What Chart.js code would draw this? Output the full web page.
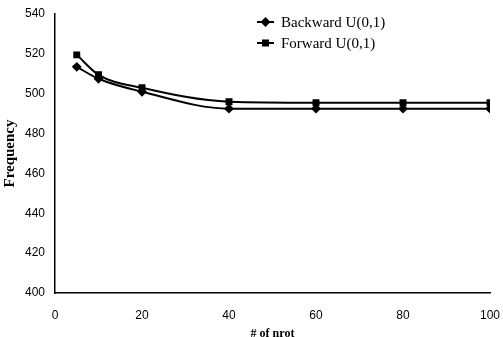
<!DOCTYPE html>
<html>
<head>
<meta charset="utf-8">
<script src="https://cdn.jsdelivr.net/npm/chart.js@4"></script>
<style>
  html, body { margin: 0; padding: 0; background: #fff; }
  #wrap { width: 503px; height: 337px; }
</style>
</head>
<body>
<div id="wrap"><canvas id="chart" width="503" height="337"></canvas></div>
<script>
const ctx = document.getElementById("chart");

/* ================= DATA ================= */

const nrot = [5, 10, 20, 40, 60, 80, 100];
const backward = [513.5, 507.5, 501, 492.5, 492.5, 492.5, 492.5];
const forward = [519.5, 509.5, 503, 496, 495.5, 495.5, 495.5];
const xTicks = [0, 20, 40, 60, 80, 100];
const yTicks = [400, 420, 440, 460, 480, 500, 520, 540];

const toPoints = (ys) => nrot.map((x, i) => ({ x: x, y: ys[i] }));

/* legend drawn by hand, stacked at top right */
const legendPlugin = {
  id: "sideLegend",
  afterDraw(chart){
    const c = chart.ctx;
    const rows = [
      { label: "Backward U(0,1)", style: "rectRot", y: 22 },
      { label: "Forward U(0,1)", style: "rect", y: 43 }
    ];
    c.save();
    rows.forEach(r => {
      c.strokeStyle = "#000";
      c.fillStyle = "#000";
      c.lineWidth = 2;
      c.beginPath();
      c.moveTo(257, r.y);
      c.lineTo(274, r.y);
      c.stroke();
      Chart.helpers.drawPoint(c, { pointStyle: r.style, radius: 3.5, borderWidth: 1 }, 265.5, r.y);
      c.font = "15px 'Liberation Serif'";
      c.textBaseline = "middle";
      c.textAlign = "left";
      c.fillText(r.label, 281, r.y + 1);
    });
    c.restore();
  }
};

/* ================= CHART ================= */

new Chart(ctx, {
  type: "line",
  data: {
    datasets: [
      {
        label: "Backward U(0,1)",
        data: toPoints(backward),
        borderColor: "#000",
        backgroundColor: "#000",
        borderWidth: 2,
        pointStyle: "rectRot",
        pointRadius: 3.5,
        cubicInterpolationMode: "monotone"
      },
      {
        label: "Forward U(0,1)",
        data: toPoints(forward),
        borderColor: "#000",
        backgroundColor: "#000",
        borderWidth: 2,
        pointStyle: "rect",
        pointRadius: 3.5,
        cubicInterpolationMode: "monotone"
      }
    ]
  },
  options: {
    responsive: false,
    animation: false,
    layout: { padding: { top: 14, right: 13, left: 0, bottom: 0 } },
    plugins: { legend: { display: false }, tooltip: { enabled: false } },
    scales: {
      x: {
        type: "linear",
        min: 0,
        max: 100,
        afterBuildTicks: (s) => { s.ticks = xTicks.map(v => ({ value: v })); },
        afterFit: (s) => { s.height = 44; s.paddingLeft = 0; s.paddingRight = 0; },
        grid: { display: false, drawTicks: false },
        border: { display: true, color: "#000", width: 1.5 },
        ticks: {
          color: "#000",
          padding: 15,
          maxRotation: 0,
          font: { family: "'Liberation Sans'", size: 12 }
        },
        title: {
          display: true,
          text: "# of nrot",
          color: "#000",
          padding: { top: 0, bottom: -3 },
          font: { family: "'Liberation Serif'", size: 12, weight: "bold", lineHeight: 1 }
        }
      },
      y: {
        min: 400,
        max: 540,
        afterBuildTicks: (s) => { s.ticks = yTicks.map(v => ({ value: v })); },
        afterFit: (s) => { s.width = 55; s.paddingTop = 0; s.paddingBottom = 0; },
        grid: { display: false, drawTicks: false },
        border: { display: true, color: "#000", width: 1.5 },
        ticks: {
          color: "#000",
          padding: 10,
          font: { family: "'Liberation Sans'", size: 12 }
        },
        title: {
          display: true,
          text: "Frequency",
          color: "#000",
          padding: { top: 1, bottom: 0 },
          font: { family: "'Liberation Serif'", size: 15, weight: "bold" }
        }
      }
    }
  },
  plugins: [legendPlugin]
});
</script>
</body>
</html>
